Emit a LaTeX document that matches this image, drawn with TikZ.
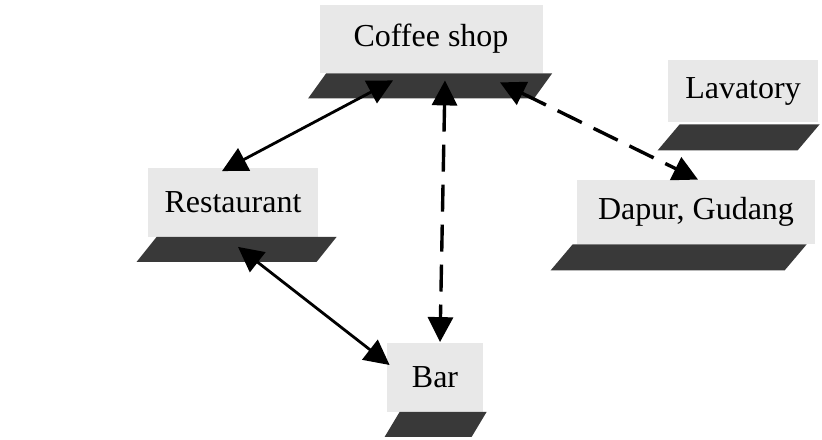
\documentclass[tikz,border=0pt]{standalone}
\usepackage{fontspec}
\setmainfont{Liberation Serif}
\usetikzlibrary{arrows.meta}

\begin{document}
\begin{tikzpicture}[x=0.5pt,y=-0.5pt,>={Triangle[length=12.5pt,width=12.5pt]},
		room/.style={fill=gray!18,inner sep=0pt,font=\fontsize{16}{18}\selectfont},
		platform/.style={fill=gray!45!black},
		link/.style={<->,line width=1.4pt},
		dashlink/.style={<->,line width=1.7pt,dash pattern=on 13.5pt off 6.5pt}]
		\useasboundingbox (0,0) rectangle (822,439);
		\node[room,minimum width=111.5pt,minimum height=34pt] (coffee) at (431,39) {Coffee shop};
		\node[room,minimum width=75pt,minimum height=31pt] (lavatory) at (743,91) {Lavatory};
		\node[room,minimum width=85pt,minimum height=34.5pt] (resto) at (233,202) {Restaurant};
		\node[room,minimum width=119pt,minimum height=32pt] (dapur) at (696,212) {Dapur, Gudang};
		\node[room,minimum width=48pt,minimum height=34.5pt] (bar) at (435,377) {Bar};
		\fill[platform] ([xshift=3.5pt]coffee.south west) -- ++(226,0) -- ++(-18,25) -- ++(-226,0) -- cycle;
		\fill[platform] ([xshift=6pt,yshift=-1pt]lavatory.south west) -- ++(140,0) -- ++(-22,26) -- ++(-140,0) -- cycle;
		\fill[platform] ([xshift=4.5pt]resto.south west) -- ++(180,0) -- ++(-20,25) -- ++(-180,0) -- cycle;
		\fill[platform] ([xshift=-2pt]dapur.south west) -- ++(234,0) -- ++(-22,26) -- ++(-234,0) -- cycle;
		\fill[platform] ([xshift=6.5pt]bar.south west) -- ++(87,0) -- ++(-15,25) -- ++(-87,0) -- cycle;
		\draw[link] ([xshift=-19pt,yshift=-3.5pt]coffee.south) -- ([xshift=-5.5pt,yshift=-2pt]resto.north);
		\draw[dashlink] ([xshift=7pt,yshift=-3.5pt]coffee.south) -- ([xshift=2.5pt]bar.north);
		\draw[dashlink] ([xshift=34.5pt,yshift=-4.5pt]coffee.south) -- ([xshift=1pt]dapur.north);
		\draw[link] ([xshift=2.5pt,yshift=-5pt]resto.south) -- ([xshift=1.5pt,yshift=6pt]bar.west);
		\end{tikzpicture}
\end{document}
